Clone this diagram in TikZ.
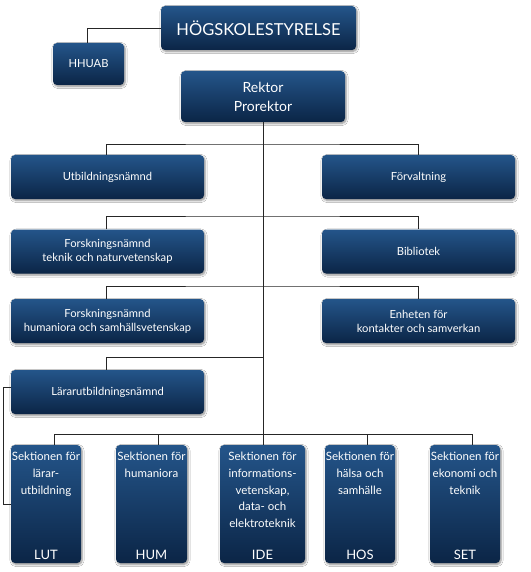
\documentclass[tikz,border=0pt]{standalone}
\usepackage{fontspec}
\setmainfont{Lato}
\usetikzlibrary{shadows.blur}
\definecolor{boxtop}{HTML}{24558A}
\definecolor{boxbot}{HTML}{0B2546}
\tikzset{
  orgbox/.style={rectangle, rounded corners=4pt, draw=none,
    top color=boxtop, bottom color=boxbot, text=white, align=center,
    inner sep=0pt,
    blur shadow={shadow xshift=1pt, shadow yshift=-1.5pt, shadow blur steps=6, shadow opacity=45},
    font=\fontsize{11.2}{14}\selectfont},
  wide/.style={orgbox, minimum width=193pt, minimum height=44pt},
  sect/.style={orgbox, minimum height=118pt},
  secttext/.style={text=white, align=center, inner sep=0pt, anchor=north,
    font=\fontsize{11.5}{16.8}\selectfont},
  conn/.style={draw=black!85, line width=0.9pt}
}
\begin{document}
\begin{tikzpicture}[x=1pt, y=-1pt]
\useasboundingbox[fill=white] (0,0) rectangle (530,572);
% top
\node[orgbox, minimum width=195pt, minimum height=44pt, font=\fontsize{16.5}{20}\selectfont] (hs) at (258.5,28) {HÖGSKOLESTYRELSE};
\node[orgbox, minimum width=71pt, minimum height=42pt] (hhuab) at (88.5,64) {HHUAB};
\node[orgbox, minimum width=164pt, minimum height=51pt, font=\fontsize{14}{19}\selectfont] (rektor) at (263,96.5) {Rektor\\Prorektor};
% rows
\node[wide] (utb) at (107.5,177) {Utbildningsnämnd};
\node[wide] (forv) at (418.5,177) {Förvaltning};
\node[wide] (fnt) at (107.5,251.5) {Forskningsnämnd\\teknik och naturvetenskap};
\node[wide] (bib) at (418.5,251.5) {Bibliotek};
\node[wide] (fnh) at (107.5,321) {Forskningsnämnd\\humaniora och samhällsvetenskap};
\node[wide] (enh) at (418.5,321) {Enheten för\\kontakter och samverkan};
\node[wide] (lun) at (107.5,392) {Lärarutbildningsnämnd};
% sections
\node[sect, minimum width=70pt] (lut) at (46,504) {};
\node[sect, minimum width=71pt] (hum) at (151.5,504) {};
\node[sect, minimum width=85pt] (ide) at (262.5,504) {};
\node[sect, minimum width=70pt] (hos) at (360,504) {};
\node[sect, minimum width=70pt] (set) at (465,504) {};
\foreach \n/\t/\l in {lut/{Sektionen för\\lärar-\\utbildning}/LUT,
                      hum/{Sektionen för\\humaniora}/HUM,
                      ide/{Sektionen för\\informations-\\vetenskap,\\data- och\\elektroteknik}/IDE,
                      hos/{Sektionen för\\hälsa och\\samhälle}/HOS,
                      set/{Sektionen för\\ekonomi och\\teknik}/SET}{
  \node[secttext] (\n t) at ([yshift=-7pt]\n.north) {\t};
  \node[secttext, anchor=center, font=\fontsize{13}{16}\selectfont] (\n l) at ([yshift=8.5pt]\n.south) {\l};
}
% connectors
\draw[conn] (hs.west) -| ([xshift=-1.5pt]hhuab.north);
\coordinate (tb) at (263,434);
\draw[conn] (rektor.south) -- (tb);
\coordinate (r1) at (263,144);
\coordinate (r2) at (263,216);
\coordinate (r3) at (263,286);
\coordinate (r4) at (263,357);
\draw[conn] ([xshift=-1.5pt]utb.north) |- (r1) -| ([xshift=-0.5pt]forv.north);
\draw[conn] ([xshift=-1.5pt]fnt.north) |- (r2) -| ([xshift=-0.5pt]bib.north);
\draw[conn] ([xshift=-1.5pt]fnh.north) |- (r3) -| ([xshift=-0.5pt]enh.north);
\draw[conn] ([xshift=-1.5pt]lun.north) |- (r4);
\coordinate (b1) at (54,434);
\coordinate (b2) at (158,434);
\coordinate (b3) at (263,434);
\coordinate (b4) at (367,434);
\coordinate (b5) at (472,434);
\draw[conn] (b1) -- (b5);
\draw[conn] (b1) -- (b1 |- lut.north);
\draw[conn] (b2) -- (b2 |- hum.north);
\draw[conn] (b3) -- (b3 |- ide.north);
\draw[conn] (b4) -- (b4 |- hos.north);
\draw[conn] (b5) -- (b5 |- set.north);
\coordinate (lk) at (3,387);
\draw[conn] ([yshift=5pt]lun.west) -- (lk) |- (lut.west);
\end{tikzpicture}
\end{document}
